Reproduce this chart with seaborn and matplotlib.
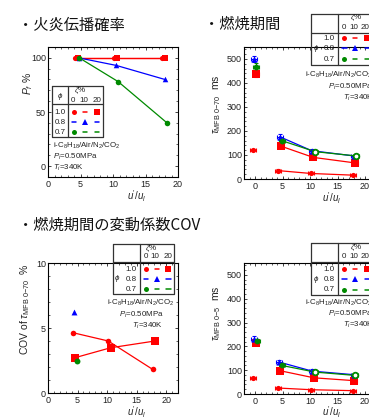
import numpy as np
import pandas as pd
import matplotlib
matplotlib.use("Agg")
import matplotlib.pyplot as plt
from matplotlib.lines import Line2D
from matplotlib.ticker import MultipleLocator
import seaborn as sns

# ---------------- data ----------------
RED, BLUE, GREEN = "#ff0000", "#0000ff", "#008a00"

# Panel A : flame propagation probability P_f (%)
pf_x_r0 = [4.2, 10.2, 17.6];  pf_y_r0 = [100, 100, 100]   # phi=1.0, zeta=0
pf_x_r20 = [4.6, 10.6, 18.0]; pf_y_r20 = [100, 100, 100]  # phi=1.0, zeta=20
pf_x_b10 = [4.7, 10.5, 18.0]; pf_y_b10 = [100, 93, 80]    # phi=0.8, zeta=10
pf_x_g0 = [4.8, 10.8, 18.3];  pf_y_g0 = [100, 78, 40]     # phi=0.7, zeta=0

# Panel B : combustion duration tau_MFB 0-70 (ms)
t70_x_r0 = [-0.3, 4.2, 10.2, 17.8];  t70_y_r0 = [121, 35, 23, 16]
t70_x_r20 = [0.2, 4.7, 10.6, 18.2];  t70_y_r20 = [437, 137, 90, 67]
t70_x_b10 = [-0.1, 4.5, 10.3, 18.0]; t70_y_b10 = [499, 176, 118, 96]
t70_x_g0 = [0.2, 4.85, 10.9, 18.4];  t70_y_g0 = [468, 160, 114, 96]
t70_e_r0 = [6, 5, 4, 3]; t70_e_r20 = [14, 8, 6, 6]
t70_e_b10 = [12, 12, 8, 6]; t70_e_g0 = [15, 8, 6, 5]

# Panel C : COV of tau_MFB 0-70 (%)
cov_x_r0 = [4.2, 10.2, 17.7];  cov_y_r0 = [4.64, 4.0, 1.82]
cov_x_r20 = [4.6, 10.6, 18.1]; cov_y_r20 = [2.72, 3.48, 4.0]
cov_x_b10 = [4.4];             cov_y_b10 = [6.25]
cov_x_g0 = [4.85];             cov_y_g0 = [2.48]

# Panel D : tau_MFB 0-5 (ms)
t5_x_r0 = [-0.3, 4.25, 10.2, 17.8]; t5_y_r0 = [67, 25, 18, 14]
t5_x_r20 = [0.1, 4.5, 10.7, 18.05]; t5_y_r20 = [213, 98, 68, 56]
t5_x_b10 = [-0.1, 4.4, 10.4, 18.0]; t5_y_b10 = [232, 134, 96, 81]
t5_x_g0 = [0.3, 4.85, 10.9, 18.2];  t5_y_g0 = [224, 120, 92, 78]
t5_e_r0 = [5, 4, 3, 3]; t5_e_r20 = [8, 6, 5, 5]
t5_e_b10 = [10, 10, 7, 5]; t5_e_g0 = [8, 6, 5, 5]

x_err = 0.55
green_open = [False, False, True, True]   # hollow green symbols at high u'/ul

phi_labels = ["1.0", "0.8", "0.7"]
zeta_labels = ["0", "10", "20"]
legend_rows = [(RED, ["o", "_", "s"]), (BLUE, ["_", "^", "_"]), (GREEN, ["o", "_", "_"])]

titles = ["・火炎伝播確率", "・燃焼期間", "・燃焼期間の変動係数COV"]
cond_lines = [r"i-C$_8$H$_{18}$/Air/N$_2$/CO$_2$", r"$P_i$=0.50MPa", r"$T_i$=340K"]

# ---------------- style ----------------
sns.set_theme(style="ticks")
plt.rcParams.update({
    "font.family": ["Liberation Sans", "DejaVu Sans"],
    "mathtext.fontset": "custom",
    "mathtext.rm": "Liberation Sans",
    "mathtext.it": "Liberation Sans:italic",
    "mathtext.bf": "Liberation Sans:bold",
    "axes.edgecolor": "black",
    "axes.linewidth": 0.8,
    "xtick.direction": "in", "ytick.direction": "in",
    "xtick.top": True, "ytick.right": True,
    "xtick.major.size": 2.4, "ytick.major.size": 2.4,
    "xtick.minor.size": 1.2, "ytick.minor.size": 1.2,
    "xtick.major.width": 0.6, "ytick.major.width": 0.6,
    "xtick.minor.width": 0.5, "ytick.minor.width": 0.5,
    "xtick.labelsize": 6.5, "ytick.labelsize": 6.5,
    "xtick.color": "#222222", "ytick.color": "#222222",
})

W, H = 369, 419
fig = plt.figure(figsize=(W / 100, H / 100), dpi=100)
fig.patch.set_facecolor("white")


def fpos(x, y):
    return x / W, 1 - y / H


def ftext(x, y, s, **kw):
    fx, fy = fpos(x, y)
    fig.text(fx, fy, s, **kw)


def fline(xs, ys, **kw):
    fig.add_artist(Line2D([x / W for x in xs], [1 - y / H for y in ys],
                          transform=fig.transFigure, **kw))


def add_ax(x0, y0, x1, y1):
    return fig.add_axes([x0 / W, 1 - y1 / H, (x1 - x0) / W, (y1 - y0) / H])


ax1 = add_ax(48, 47, 178, 177)
ax2 = add_ax(244, 47, 376, 179)
ax3 = add_ax(48, 263, 178, 393)
ax4 = add_ax(244, 263, 376, 394)

MS = {"o": 13, "s": 22, "^": 17}


def series(ax, xs, ys, color, marker, connect_from=0, yerr=None,
           open_flags=None, s=None, lw=0.9, z=3):
    xs = list(xs); ys = list(ys)
    if connect_from is not None and len(xs) - connect_from > 1:
        sns.lineplot(x=xs[connect_from:], y=ys[connect_from:], ax=ax, color=color,
                     lw=lw, sort=False, estimator=None, zorder=z, legend=False)
    if yerr is not None:
        ax.errorbar(xs, ys, xerr=x_err, yerr=yerr, fmt="none", ecolor=color,
                    elinewidth=0.8, capsize=1.6, capthick=0.8, zorder=z)
    size = s if s is not None else MS[marker]
    if open_flags is None:
        open_flags = [False] * len(xs)
    fx = [x for x, o in zip(xs, open_flags) if not o]
    fy = [y for y, o in zip(ys, open_flags) if not o]
    ox = [x for x, o in zip(xs, open_flags) if o]
    oy = [y for y, o in zip(ys, open_flags) if o]
    if fx:
        sns.scatterplot(x=fx, y=fy, ax=ax, color=color, marker=marker, s=size,
                        linewidth=0, zorder=z + 1, legend=False)
    if ox:
        sns.scatterplot(x=ox, y=oy, ax=ax, marker=marker, s=size * 0.9,
                        facecolor="white", edgecolor=color, linewidth=1.3,
                        zorder=z + 1, legend=False)


# ---- Panel A
series(ax1, pf_x_r0, pf_y_r0, RED, "o", s=14)
series(ax1, pf_x_r20, pf_y_r20, RED, "s", s=24)
series(ax1, pf_x_b10, pf_y_b10, BLUE, "^", s=16)
series(ax1, pf_x_g0, pf_y_g0, GREEN, "o", s=16)

# ---- Panel B
series(ax2, t70_x_r0, t70_y_r0, RED, "o", connect_from=1, yerr=t70_e_r0, s=14)
series(ax2, t70_x_r20, t70_y_r20, RED, "s", connect_from=1, yerr=t70_e_r20, s=26)
series(ax2, t70_x_b10, t70_y_b10, BLUE, "^", connect_from=1, yerr=t70_e_b10, s=20)
series(ax2, t70_x_g0, t70_y_g0, GREEN, "o", connect_from=1, yerr=t70_e_g0,
       open_flags=green_open, s=18)

# ---- Panel C
series(ax3, cov_x_r0, cov_y_r0, RED, "o", s=16)
series(ax3, cov_x_r20, cov_y_r20, RED, "s", s=28)
series(ax3, cov_x_b10, cov_y_b10, BLUE, "^", s=18)
series(ax3, cov_x_g0, cov_y_g0, GREEN, "o", s=18)

# ---- Panel D
series(ax4, t5_x_r0, t5_y_r0, RED, "o", connect_from=1, yerr=t5_e_r0, s=14)
series(ax4, t5_x_r20, t5_y_r20, RED, "s", connect_from=1, yerr=t5_e_r20, s=26)
series(ax4, t5_x_b10, t5_y_b10, BLUE, "^", connect_from=1, yerr=t5_e_b10, s=20)
series(ax4, t5_x_g0, t5_y_g0, GREEN, "o", connect_from=1, yerr=t5_e_g0,
       open_flags=green_open, s=18)

# ---- axes limits & ticks
ax1.set_xlim(0, 20); ax1.set_ylim(-10, 110)
ax1.xaxis.set_major_locator(MultipleLocator(5)); ax1.xaxis.set_minor_locator(MultipleLocator(1))
ax1.yaxis.set_major_locator(MultipleLocator(50)); ax1.yaxis.set_minor_locator(MultipleLocator(10))

for ax in (ax2, ax4):
    ax.set_xlim(-2, 22); ax.set_ylim(0, 550)
    ax.xaxis.set_major_locator(MultipleLocator(5)); ax.xaxis.set_minor_locator(MultipleLocator(1))
    ax.yaxis.set_major_locator(MultipleLocator(100)); ax.yaxis.set_minor_locator(MultipleLocator(20))

ax3.set_xlim(0, 22); ax3.set_ylim(0, 10)
ax3.xaxis.set_major_locator(MultipleLocator(5)); ax3.xaxis.set_minor_locator(MultipleLocator(1))
ax3.yaxis.set_major_locator(MultipleLocator(5)); ax3.yaxis.set_minor_locator(MultipleLocator(1))

for ax in (ax1, ax2, ax3, ax4):
    ax.set_xlabel(""); ax.set_ylabel("")
    ax.tick_params(which="both", direction="in", top=True, right=True)
    ax.tick_params(axis="y", pad=1.5)
    ax.tick_params(axis="x", pad=1.8)
    ax.set_facecolor("white")
    for sp in ax.spines.values():
        sp.set_visible(True); sp.set_color("black"); sp.set_linewidth(0.8)

# ---- axis labels
lab_kw = dict(fontsize=7.5, color="#222222", ha="center", va="center")
ftext(28, 84, r"$P_f$ %", rotation=90, **lab_kw)
ftext(217, 104, r"$\tau_{\mathrm{MFB\ 0\!-\!70}}$  ms", rotation=90, **lab_kw)
ftext(25, 309, r"COV of $\tau_{\mathrm{MFB\ 0\!-\!70}}$  %", rotation=90, **lab_kw)
ftext(217, 313, r"$\tau_{\mathrm{MFB\ 0\!-\!5}}$  ms", rotation=90, **lab_kw)
xlab_kw = dict(fontsize=7, color="#222222", ha="center", va="center")
for (x, y) in [(137, 196), (332, 198), (137, 412.5), (332, 412.5)]:
    ftext(x, y, r"$u'/u_l$", **xlab_kw)

# ---- titles
tkw = dict(fontsize=11, color="#111111", va="center", ha="left",
           family=["Noto Sans CJK JP", "DejaVu Sans"])
for (tx, y), t in zip([(18, 25), (204, 24.5), (18, 225)], titles):
    ftext(tx, y, t, **tkw)

# ---- legend tables
LC = "#333333"
tab_kw = dict(fontsize=5.8, color="#222222", va="center")


def draw_table(box, vdiv, hline, zeta_pos, col_lab_y, col_lab_x, mark_x,
               row_y, row_lab_x, row_lab_ha, phi_pos):
    x0, y0, x1, y1 = box
    fline([x0, x1, x1, x0, x0], [y0, y0, y1, y1, y0], color=LC, lw=0.9)
    fline([vdiv, vdiv], [y0, y1], color=LC, lw=0.9)
    fline([x0, x1], [hline, hline], color=LC, lw=0.9)
    ftext(zeta_pos[0], zeta_pos[1], r"$\zeta$%", ha="center", **tab_kw)
    for lab, cx in zip(zeta_labels, col_lab_x):
        ftext(cx, col_lab_y, lab, ha="center", **tab_kw)
    ftext(phi_pos[0], phi_pos[1], r"$\phi$", ha="center", **tab_kw)
    for lab, (color, marks), ry in zip(phi_labels, legend_rows, row_y):
        ftext(row_lab_x, ry, lab, ha=row_lab_ha, **tab_kw)
        for m, mx in zip(marks, mark_x):
            if m == "_":
                fline([mx - 2.2, mx + 2.2], [ry, ry], color=color, lw=1.1)
            else:
                ms = {"o": 3.6, "s": 4.4, "^": 3.8}[m]
                fig.add_artist(Line2D([mx / W], [1 - ry / H], transform=fig.transFigure,
                                      marker=m, ms=ms, mew=0, color=color, ls="none"))


draw_table((52, 86, 103, 137), 68, 104, (80, 90.5), 100, [72.7, 84.3, 96.7],
           [74, 85, 96.7], [112, 122, 132], 60, "center", (60, 97))
draw_table((310.7, 14, 380, 65), 338, 33.3, (356.7, 17.5), 27.3, [344.3, 353.8, 365.5],
           [344.3, 355, 366.7], [38.3, 48.3, 59.3], 335, "right", (316, 48.5))
draw_table((112.7, 244, 174, 294), 140, 262.3, (151.7, 248.3), 256.7, [145.7, 155, 168.3],
           [146, 156.7, 168.3], [269.3, 279.3, 289.3], 137, "right", (117.3, 279))
draw_table((310.7, 243.3, 380, 295), 338.3, 261.7, (356.7, 247.7), 256, [344.3, 354, 365.5],
           [344.3, 355, 366.7], [269.3, 279.3, 289.5], 335, "right", (316, 279.5))

# ---- condition notes
ckw = dict(fontsize=5.7, color="#222222", va="center", ha="left")
for xs, ys in [((53, 53, 53), (146, 157, 168)),
               ((305, 328.3, 343.3), (75, 87, 98)),
               ((106.7, 118.5, 131.7), (303.3, 315, 326)),
               ((305, 328.3, 343.3), (303.3, 314.3, 324.5))]:
    for x, y, s in zip(xs, ys, cond_lines):
        ftext(x, y, s, **ckw)

fig.savefig("out.png", dpi=100, facecolor="white")
